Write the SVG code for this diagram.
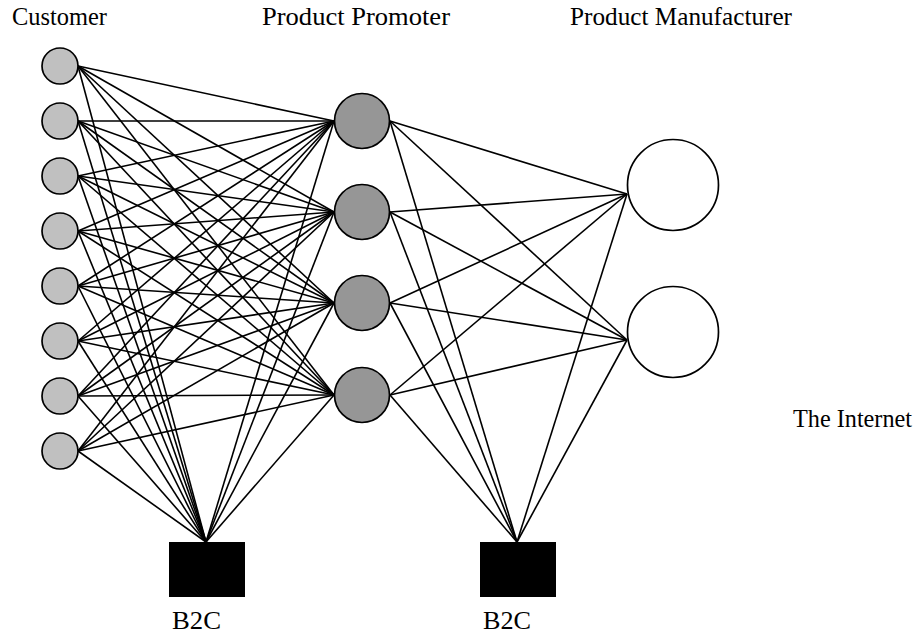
<svg xmlns="http://www.w3.org/2000/svg" width="920" height="634" viewBox="0 0 920 634">
<style>
.c{stroke:#000;stroke-width:1.7;}
.cust{fill:#c0c0c0;}
.prom{fill:#969696;}
.man{fill:#fff;}
.b2c{fill:#000;}
.lbl{font-family:"Liberation Serif","Times New Roman",serif;font-size:26px;fill:#000;}
#connectors line{stroke:#000;stroke-width:1.6;}
</style>
<rect width="920" height="634" fill="#fff"/>
<g id="connectors">
<line x1="78" y1="66" x2="334" y2="121"/><line x1="78" y1="66" x2="334" y2="212"/><line x1="78" y1="66" x2="334" y2="303"/><line x1="78" y1="66" x2="334" y2="395"/>
<line x1="78" y1="121" x2="334" y2="121"/><line x1="78" y1="121" x2="334" y2="212"/><line x1="78" y1="121" x2="334" y2="303"/><line x1="78" y1="121" x2="334" y2="395"/>
<line x1="78" y1="176" x2="334" y2="121"/><line x1="78" y1="176" x2="334" y2="212"/><line x1="78" y1="176" x2="334" y2="303"/><line x1="78" y1="176" x2="334" y2="395"/>
<line x1="78" y1="231" x2="334" y2="121"/><line x1="78" y1="231" x2="334" y2="212"/><line x1="78" y1="231" x2="334" y2="303"/><line x1="78" y1="231" x2="334" y2="395"/>
<line x1="78" y1="286" x2="334" y2="121"/><line x1="78" y1="286" x2="334" y2="212"/><line x1="78" y1="286" x2="334" y2="303"/><line x1="78" y1="286" x2="334" y2="395"/>
<line x1="78" y1="341" x2="334" y2="121"/><line x1="78" y1="341" x2="334" y2="212"/><line x1="78" y1="341" x2="334" y2="303"/><line x1="78" y1="341" x2="334" y2="395"/>
<line x1="78" y1="396" x2="334" y2="121"/><line x1="78" y1="396" x2="334" y2="212"/><line x1="78" y1="396" x2="334" y2="303"/><line x1="78" y1="396" x2="334" y2="395"/>
<line x1="78" y1="451" x2="334" y2="121"/><line x1="78" y1="451" x2="334" y2="212"/><line x1="78" y1="451" x2="334" y2="303"/><line x1="78" y1="451" x2="334" y2="395"/>
<line x1="78" y1="66" x2="206" y2="542"/><line x1="78" y1="121" x2="206" y2="542"/><line x1="78" y1="176" x2="206" y2="542"/><line x1="78" y1="231" x2="206" y2="542"/>
<line x1="78" y1="286" x2="206" y2="542"/><line x1="78" y1="341" x2="206" y2="542"/><line x1="78" y1="396" x2="206" y2="542"/><line x1="78" y1="451" x2="206" y2="542"/>
<line x1="334" y1="121" x2="206" y2="542"/><line x1="334" y1="212" x2="206" y2="542"/><line x1="334" y1="303" x2="206" y2="542"/><line x1="334" y1="395" x2="206" y2="542"/>
<line x1="390" y1="121" x2="627" y2="194"/><line x1="390" y1="121" x2="627" y2="340"/>
<line x1="390" y1="212" x2="627" y2="194"/><line x1="390" y1="212" x2="627" y2="340"/>
<line x1="390" y1="303" x2="627" y2="194"/><line x1="390" y1="303" x2="627" y2="340"/>
<line x1="390" y1="395" x2="627" y2="194"/><line x1="390" y1="395" x2="627" y2="340"/>
<line x1="390" y1="121" x2="517" y2="542"/><line x1="390" y1="212" x2="517" y2="542"/><line x1="390" y1="303" x2="517" y2="542"/><line x1="390" y1="395" x2="517" y2="542"/>
<line x1="627" y1="194" x2="517" y2="542"/><line x1="627" y1="340" x2="517" y2="542"/>
</g>
<g id="customer1"><circle class="c cust" cx="60" cy="66" r="18"/></g>
<g id="customer2"><circle class="c cust" cx="60" cy="121" r="18"/></g>
<g id="customer3"><circle class="c cust" cx="60" cy="176" r="18"/></g>
<g id="customer4"><circle class="c cust" cx="60" cy="231" r="18"/></g>
<g id="customer5"><circle class="c cust" cx="60" cy="286" r="18"/></g>
<g id="customer6"><circle class="c cust" cx="60" cy="341" r="18"/></g>
<g id="customer7"><circle class="c cust" cx="60" cy="396" r="18"/></g>
<g id="customer8"><circle class="c cust" cx="60" cy="451" r="18"/></g>
<g id="promoter1"><circle class="c prom" cx="362" cy="121" r="27.5"/></g>
<g id="promoter2"><circle class="c prom" cx="362" cy="212" r="27.5"/></g>
<g id="promoter3"><circle class="c prom" cx="362" cy="303" r="27.5"/></g>
<g id="promoter4"><circle class="c prom" cx="362" cy="395" r="27.5"/></g>
<g id="manufacturer1"><circle class="c man" cx="673" cy="185" r="45.5"/></g>
<g id="manufacturer2"><circle class="c man" cx="673" cy="332" r="45.5"/></g>
<g id="b2c1"><rect class="b2c" x="169" y="542" width="76" height="55"/><text class="lbl" x="172" y="629" textLength="49" lengthAdjust="spacingAndGlyphs">B2C</text></g>
<g id="b2c2"><rect class="b2c" x="480" y="542" width="76" height="55"/><text class="lbl" x="483" y="629" textLength="48" lengthAdjust="spacingAndGlyphs">B2C</text></g>
<g id="labels">
<text class="lbl" x="12" y="25" textLength="95" lengthAdjust="spacingAndGlyphs">Customer</text>
<text class="lbl" x="262" y="25" textLength="188" lengthAdjust="spacingAndGlyphs">Product Promoter</text>
<text class="lbl" x="570" y="25" textLength="222" lengthAdjust="spacingAndGlyphs">Product Manufacturer</text>
<text class="lbl" x="793" y="427" textLength="119" lengthAdjust="spacingAndGlyphs">The Internet</text>
</g>
</svg>
